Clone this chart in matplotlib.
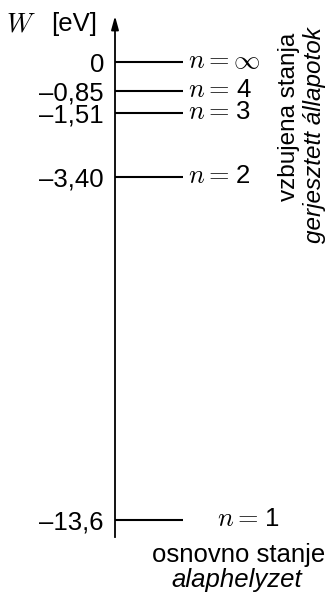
import matplotlib
matplotlib.use("Agg")
import matplotlib.pyplot as plt
from matplotlib.transforms import offset_copy

plt.rcParams['font.family'] = ['Liberation Sans', 'DejaVu Sans']
plt.rcParams['mathtext.fontset'] = 'cm'

# energy levels of hydrogen atom
energies = [0, -0.85, -1.51, -3.40, -13.6]
energy_labels = ['0', '\u20130,85', '\u20131,51', '\u20133,40', '\u201313,6']
n_labels = ['\u221e', '4', '3', '2', '1']

W, H = 331, 594
fig = plt.figure(figsize=(W / 100, H / 100), dpi=100)
ax = fig.add_axes([0, 0, 1, 1])

# pixel rows of the top level (0 eV) and px per eV
r0, k = 62, 33.7
ax.set_xlim(0, W)
ax.set_ylim((r0 - H) / k, r0 / k)

x_axis = 115
x_end = 183
ax.hlines(energies, x_axis, x_end, color='black', lw=1.5)

# vertical axis with arrow
for s in ['top', 'right', 'bottom']:
    ax.spines[s].set_visible(False)
ax.spines['left'].set_position(('data', x_axis))
ax.spines['left'].set_linewidth(1.3)
ax.spines['left'].set_bounds((r0 - 537) / k, (r0 - 22) / k)
ax.set_xticks([])
ax.set_yticks(energies, energy_labels)
ax.tick_params(axis='y', length=0, pad=8, labelsize=18.5)
ax.annotate('', xy=(x_axis, (r0 - 16) / k), xytext=(x_axis, (r0 - 30) / k),
            arrowprops=dict(arrowstyle='-|>,head_length=0.8,head_width=0.22',
                            color='black', lw=1.3, shrinkA=0, shrinkB=0,
                            mutation_scale=10))

# n = ... labels
base = offset_copy(ax.transData, fig=fig, y=-6, units='dots')
nx = [188, 188, 188, 188, 217]
for e, n, x in zip(energies, n_labels, nx):
    if n == '\u221e':
        ax.text(x, e, r'$n=\infty$', fontsize=19, ha='left', va='baseline', transform=base)
    else:
        ax.text(x, e, r'$n=$', fontsize=19, ha='left', va='baseline', transform=base)
        ax.text(x + 48, e, n, fontsize=18.5, ha='left', va='baseline', transform=base)

# axis title
fig.text(36 / W, 1 - 31 / H, r'$W$', fontsize=19, ha='right', va='baseline')
fig.text(97 / W, 1 - 31 / H, '[eV]', fontsize=18.5, ha='right', va='baseline')

# side labels
fig.text(289 / W, 1 - 117 / H, 'vzbujena stanja', fontsize=17.5, rotation=90,
         ha='center', va='center')
fig.text(315 / W, 1 - 135 / H, 'gerjesztett \u00e1llapotok', fontsize=17.5, rotation=90,
         ha='center', va='center', style='italic')
fig.text(239 / W, 1 - 562 / H, 'osnovno stanje', fontsize=18.5, ha='center', va='baseline')
fig.text(237 / W, 1 - 587 / H, 'alaphelyzet', fontsize=18.5, ha='center', va='baseline',
         style='italic')

fig.savefig('out.png', dpi=100)
